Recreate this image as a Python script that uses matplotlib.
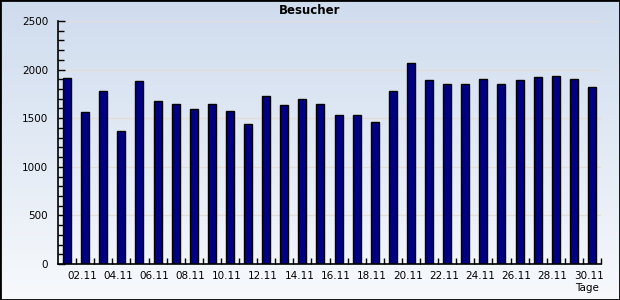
import numpy as np
import matplotlib
matplotlib.use("Agg")
import matplotlib.pyplot as plt
from matplotlib.colors import LinearSegmentedColormap
from matplotlib.patches import Rectangle

days = list(range(1, 31))
visitors = [1910, 1561, 1780, 1365, 1883, 1677, 1646, 1595, 1646, 1574,
            1440, 1728, 1636, 1697, 1646, 1533, 1533, 1461, 1780, 2068,
            1893, 1852, 1852, 1903, 1852, 1893, 1924, 1934, 1903, 1821]
tick_days = list(range(2, 31, 2))
tick_labels = ["%02d.11" % d for d in tick_days]
title = "Besucher"
xlabel = "Tage"

fig = plt.figure(figsize=(6.2, 3.0), dpi=100)

# gradient background
bg = fig.add_axes([0, 0, 1, 1], zorder=0)
cmap = LinearSegmentedColormap.from_list("bg", ["#cfdcee", "#f7f9fc"])
grad = np.linspace(0, 1, 256).reshape(-1, 1)
bg.imshow(grad, aspect="auto", cmap=cmap, extent=[0, 1, 0, 1], origin="upper")
bg.set_axis_off()

ax = fig.add_axes([58/620, 1-264/300, (601-58)/620, (264-21)/300], zorder=1)
ax.patch.set_alpha(0)

ax.bar(days, visitors, width=0.44, color="#000080", edgecolor="black",
       linewidth=1.0, zorder=3)

ax.set_xlim(0.5, 30.5)
ax.set_ylim(0, 2500)
ax.set_yticks(range(0, 2501, 500))
ax.set_yticks(range(0, 2501, 100), minor=True)
for y in range(500, 2501, 500):
    ax.axhline(y, color="#e2ddd8", linewidth=1.0, zorder=1)

ax.set_xticks([d - 0.17 for d in tick_days])
ax.set_xticklabels(tick_labels)
ax.set_xticks([d + 0.5 for d in range(1, 31)], minor=True)
ax.tick_params(axis="x", which="major", length=0, pad=5, labelsize=7.5, colors="black")
ax.tick_params(axis="x", which="minor", direction="in", length=4, width=1)
ax.tick_params(axis="y", which="major", direction="in", length=5, width=1, pad=7, labelsize=7.5)
ax.tick_params(axis="y", which="minor", direction="in", length=4, width=1)

for s in ["top", "right"]:
    ax.spines[s].set_visible(False)
for s in ["left", "bottom"]:
    ax.spines[s].set_linewidth(1.2)
    ax.spines[s].set_zorder(4)

fig.text(0.5, 1-11/300, title, ha="center", va="center", fontsize=8.5, fontweight="bold")
fig.text(587/620, 1-288/300, xlabel, ha="center", va="center", fontsize=7.5)

fig.patches.append(Rectangle((0, 0), 1, 1, transform=fig.transFigure, fill=False,
                             edgecolor="black", linewidth=2, zorder=10))

fig.savefig("out.png", dpi=100)
